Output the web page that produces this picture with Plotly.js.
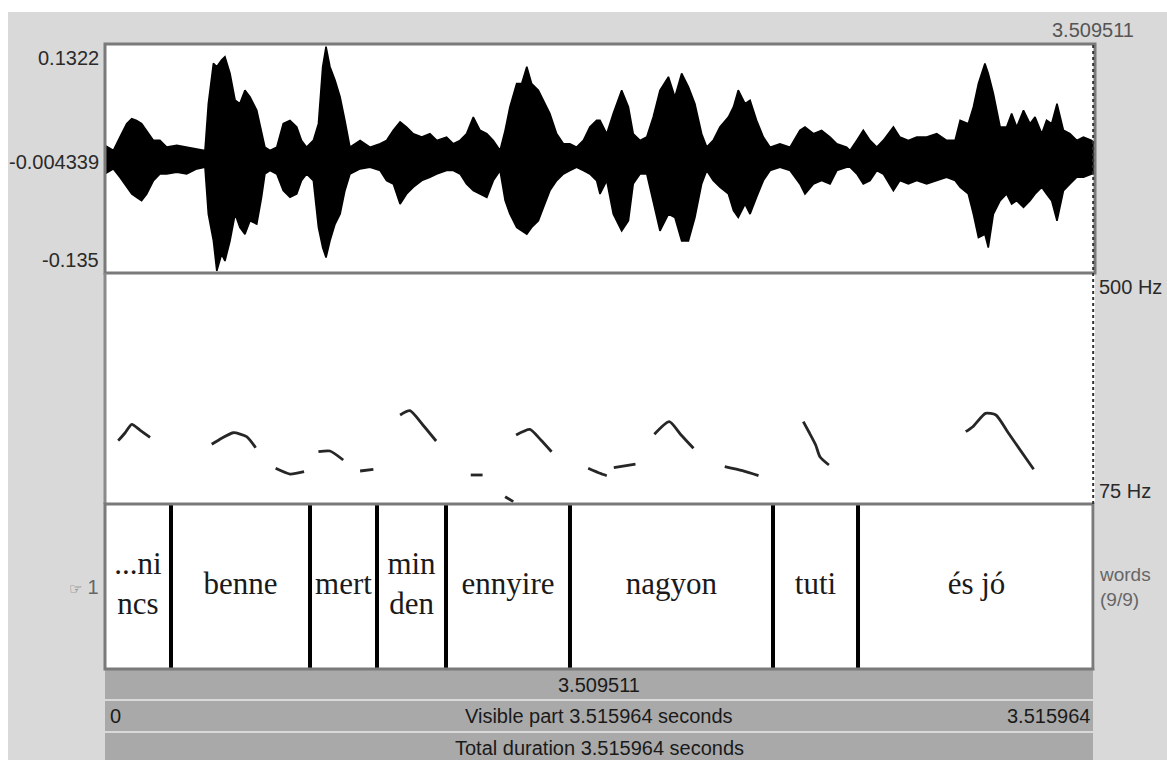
<!DOCTYPE html>
<html>
<head>
<meta charset="utf-8">
<script src="https://cdn.plot.ly/plotly-3.0.1.min.js"></script>
<style>
html,body{margin:0;padding:0;background:#ffffff;}
#chart{width:1167px;height:760px;}
</style>
</head>
<body>
<div id="chart"></div>
<script>
// ---------------- DATA ----------------
const totalDuration = 3.515964;
const cursorTime = 3.509511;
const ampTicks = [0.1322, -0.004339, -0.135];
const pitchRange = [75, 500];
const tierName = "words";
const tierCount = "(9/9)";

// waveform envelope (time s, upper / lower amplitude)
const waveTime = [
0.000,0.030,0.053,0.077,0.095,0.112,0.130,0.148,0.172,0.195,0.219,0.255,0.290,0.326,0.355,0.367,0.385,0.397,0.414,0.426,
0.444,0.462,0.479,0.497,0.515,0.539,0.556,0.568,0.586,0.610,0.633,0.657,0.681,0.698,0.716,0.740,0.758,0.773,0.785,0.799,
0.817,0.835,0.852,0.870,0.906,0.941,0.977,1.000,1.024,1.048,1.071,1.095,1.125,1.154,1.178,1.213,1.237,1.261,1.284,1.308,
1.332,1.356,1.379,1.403,1.421,1.438,1.462,1.480,1.498,1.515,1.539,1.557,1.580,1.604,1.628,1.651,1.675,1.699,1.722,1.746,
1.758,1.782,1.805,1.835,1.859,1.876,1.900,1.924,1.947,1.971,2.001,2.024,2.048,2.072,2.095,2.119,2.137,2.160,2.184,2.214,
2.232,2.249,2.273,2.291,2.314,2.338,2.362,2.397,2.433,2.468,2.486,2.516,2.545,2.575,2.599,2.634,2.646,2.670,2.693,2.717,
2.741,2.764,2.800,2.823,2.853,2.883,2.918,2.954,2.989,3.019,3.037,3.066,3.084,3.102,3.125,3.137,3.155,3.179,3.202,3.220,
3.238,3.262,3.285,3.303,3.327,3.344,3.362,3.381,3.404,3.427,3.451,3.475,3.504,3.516];
const waveUpper = [
0.0145,0.0086,0.0243,0.0400,0.0459,0.0439,0.0400,0.0322,0.0204,0.0204,0.0125,0.0145,0.0125,0.0106,0.0086,0.0635,0.1106,0.1067,0.1146,0.1185,
0.0989,0.0675,0.0635,0.0792,0.0714,0.0557,0.0282,0.0125,0.0086,0.0125,0.0400,0.0439,0.0361,0.0204,0.0125,0.0204,0.0400,0.1067,0.1302,0.1067,
0.0910,0.0714,0.0439,0.0125,0.0204,0.0125,0.0164,0.0204,0.0322,0.0420,0.0361,0.0282,0.0243,0.0282,0.0204,0.0243,0.0164,0.0204,0.0282,0.0478,
0.0322,0.0282,0.0204,0.0086,0.0322,0.0596,0.0871,0.0871,0.1067,0.0871,0.0792,0.0675,0.0518,0.0282,0.0164,0.0164,0.0125,0.0204,0.0361,0.0439,
0.0439,0.0282,0.0518,0.0792,0.0596,0.0282,0.0204,0.0243,0.0478,0.0792,0.0949,0.0714,0.0989,0.0832,0.0635,0.0282,0.0125,0.0204,0.0361,0.0478,
0.0596,0.0792,0.0635,0.0675,0.0439,0.0243,0.0125,0.0164,0.0125,0.0322,0.0361,0.0282,0.0322,0.0243,0.0164,0.0125,0.0086,0.0204,0.0322,0.0204,
0.0125,0.0204,0.0361,0.0243,0.0204,0.0243,0.0243,0.0282,0.0204,0.0204,0.0439,0.0400,0.0596,0.0871,0.1106,0.0989,0.0753,0.0361,0.0361,0.0518,
0.0361,0.0557,0.0400,0.0478,0.0282,0.0439,0.0400,0.0635,0.0322,0.0282,0.0204,0.0243,0.0204,0.0164];
const waveLower = [
-0.0189,-0.0130,-0.0228,-0.0345,-0.0424,-0.0463,-0.0502,-0.0424,-0.0267,-0.0189,-0.0189,-0.0169,-0.0189,-0.0130,-0.0110,-0.0659,-0.0973,-0.1326,-0.1130,-0.1209,
-0.0973,-0.0659,-0.0816,-0.0895,-0.0738,-0.0777,-0.0463,-0.0189,-0.0149,-0.0189,-0.0385,-0.0463,-0.0424,-0.0267,-0.0189,-0.0267,-0.0816,-0.1052,-0.1169,-0.0973,
-0.0777,-0.0659,-0.0385,-0.0189,-0.0130,-0.0110,-0.0149,-0.0267,-0.0306,-0.0542,-0.0424,-0.0345,-0.0267,-0.0228,-0.0189,-0.0149,-0.0149,-0.0189,-0.0306,-0.0385,
-0.0424,-0.0463,-0.0267,-0.0149,-0.0502,-0.0659,-0.0816,-0.0856,-0.0895,-0.0816,-0.0738,-0.0581,-0.0385,-0.0267,-0.0189,-0.0149,-0.0110,-0.0149,-0.0189,-0.0267,
-0.0424,-0.0267,-0.0659,-0.0856,-0.0738,-0.0306,-0.0189,-0.0189,-0.0502,-0.0856,-0.0659,-0.0699,-0.0973,-0.0973,-0.0699,-0.0306,-0.0149,-0.0267,-0.0345,-0.0424,
-0.0620,-0.0699,-0.0542,-0.0659,-0.0463,-0.0267,-0.0149,-0.0110,-0.0149,-0.0306,-0.0424,-0.0306,-0.0267,-0.0306,-0.0149,-0.0110,-0.0110,-0.0189,-0.0306,-0.0267,
-0.0149,-0.0189,-0.0385,-0.0267,-0.0306,-0.0267,-0.0306,-0.0267,-0.0228,-0.0267,-0.0345,-0.0424,-0.0659,-0.0934,-0.0895,-0.1052,-0.0659,-0.0502,-0.0424,-0.0542,
-0.0502,-0.0581,-0.0502,-0.0424,-0.0345,-0.0424,-0.0502,-0.0738,-0.0385,-0.0306,-0.0228,-0.0228,-0.0189,-0.0189];

// pitch contour (s, Hz); null separates voiced stretches
const pitchTime = [
0.047,0.071,0.095,0.124,0.160,null,
0.379,0.416,0.456,0.503,0.535,null,
0.606,0.657,0.707,null,
0.758,0.799,0.846,null,
0.906,0.953,null,
1.048,1.083,1.129,1.176,null,
1.299,1.341,null,
1.421,1.450,null,
1.460,1.509,1.548,1.586,null,
1.716,1.758,1.782,null,
1.807,1.884,null,
1.951,2.004,2.046,2.090,null,
2.201,2.264,2.321,null,
2.480,2.500,2.524,2.539,2.571,null,
3.057,3.082,3.127,3.164,3.209,3.298];
const pitchHz = [
192.0,206.2,222.3,211.7,198.2,null,
185.3,197.0,206.7,199.4,179.0,null,
141.0,130.4,134.7,null,
171.6,172.9,156.3,null,
136.0,139.1,null,
239.5,247.4,221.0,191.4,null,
128.6,128.6,null,
88.5,79.3,null,
202.5,213.0,193.3,171.6,null,
141.0,131.7,127.3,null,
142.1,148.9,null,
203.8,227.1,202.5,177.9,null,
143.9,136.5,127.3,null,
227.1,208.0,184.0,162.4,147.1,null,
208.6,217.8,242.6,239.5,205.6,139.1];

// word tier
const boundaries = [0.2344, 0.7281, 0.9660, 1.2111, 1.6514, 2.3724, 2.6743];
const words = ["...ni<br>ncs", "benne", "mert", "min<br>den", "ennyire", "nagyon", "tuti", "és jó"];

// ---------------- LAYOUT HELPERS ----------------
const W = 1167, H = 760;
const PX = x => x / W;
const PY = y => 1 - y / H;
const sans = "Liberation Sans, Arial, sans-serif";

// tier traces built from data
const edges = [0].concat(boundaries, [totalDuration]);
const mids = words.map((w, i) => (edges[i] + edges[i + 1]) / 2);
const bx = [], by = [];
boundaries.forEach(b => { bx.push(b, b, null); by.push(0, 1, null); });

const traces = [
  {x: waveTime, y: waveUpper, xaxis: 'x', yaxis: 'y', mode: 'lines',
   line: {color: '#000', width: 1.6}, hoverinfo: 'skip', showlegend: false},
  {x: waveTime, y: waveLower, xaxis: 'x', yaxis: 'y', mode: 'lines', fill: 'tonexty',
   fillcolor: '#000', line: {color: '#000', width: 1.6}, hoverinfo: 'skip', showlegend: false},
  {x: pitchTime, y: pitchHz, xaxis: 'x', yaxis: 'y2', mode: 'lines', connectgaps: false,
   line: {color: '#262626', width: 2.8, shape: 'spline', smoothing: 0.6}, hoverinfo: 'skip', showlegend: false},
  {x: bx, y: by, xaxis: 'x', yaxis: 'y3', mode: 'lines',
   line: {color: '#000', width: 4}, hoverinfo: 'skip', showlegend: false},
  {x: mids, y: words.map(() => 0.5), xaxis: 'x', yaxis: 'y3', mode: 'text', text: words,
   textposition: 'middle center', cliponaxis: false,
   textfont: {family: 'Liberation Serif, Times New Roman, serif', size: 31, color: '#1a1a1a'},
   hoverinfo: 'skip', showlegend: false}
];

const shapes = [
  {type: 'rect', xref: 'paper', yref: 'paper', x0: PX(8), x1: 1, y0: 0, y1: PY(12),
   fillcolor: '#d9d9d9', line: {width: 0}, layer: 'below'},
  {type: 'rect', xref: 'paper', yref: 'paper', x0: PX(105), x1: PX(1095), y0: PY(668), y1: PY(44),
   fillcolor: '#ffffff', line: {width: 0}, layer: 'below'},
  {type: 'rect', xref: 'paper', yref: 'paper', x0: PX(105), x1: PX(1093), y0: PY(699), y1: PY(670),
   fillcolor: '#a9a9a9', line: {width: 0}, layer: 'below'},
  {type: 'rect', xref: 'paper', yref: 'paper', x0: PX(105), x1: PX(1093), y0: PY(731), y1: PY(701),
   fillcolor: '#a9a9a9', line: {width: 0}, layer: 'below'},
  {type: 'rect', xref: 'paper', yref: 'paper', x0: PX(105), x1: PX(1093), y0: 0, y1: PY(733),
   fillcolor: '#a9a9a9', line: {width: 0}, layer: 'below'},
  {type: 'rect', xref: 'paper', yref: 'paper', x0: PX(105), x1: PX(1095), y0: PY(273), y1: PY(44),
   line: {color: '#7a7a7a', width: 3}},
  {type: 'line', xref: 'paper', yref: 'paper', x0: PX(105), x1: PX(105), y0: PY(504), y1: PY(273),
   line: {color: '#8a8a8a', width: 3}},
  {type: 'rect', xref: 'paper', yref: 'paper', x0: PX(105), x1: PX(1093), y0: PY(669), y1: PY(504),
   line: {color: '#7a7a7a', width: 3}},
  {type: 'line', xref: 'x', yref: 'paper', x0: cursorTime, x1: cursorTime, y0: PY(504), y1: PY(44),
   line: {color: '#333', width: 2, dash: 'dot'}}
];

const fnt = (s, c) => ({family: sans, size: s, color: c});
const FS = 20;
const annotations = [
  {xref: 'paper', yref: 'y', x: PX(101), y: ampTicks[0], xanchor: 'right', yanchor: 'top',
   text: String(ampTicks[0]), showarrow: false, font: fnt(FS, '#2a2a2a')},
  {xref: 'paper', yref: 'y', x: PX(101), y: ampTicks[1], xanchor: 'right', yanchor: 'middle',
   text: String(ampTicks[1]), showarrow: false, font: fnt(FS, '#2a2a2a')},
  {xref: 'paper', yref: 'y', x: PX(101), y: ampTicks[2], xanchor: 'right', yanchor: 'bottom',
   text: String(ampTicks[2]), showarrow: false, font: fnt(FS, '#2a2a2a')},
  {xref: 'x', yref: 'paper', x: cursorTime, y: PY(30), xanchor: 'center', yanchor: 'middle',
   text: cursorTime.toFixed(6), showarrow: false, font: fnt(FS, '#555')},
  {xref: 'paper', yref: 'y2', x: PX(1097), y: pitchRange[1], xanchor: 'left', yanchor: 'top',
   text: pitchRange[1] + ' Hz', showarrow: false, font: fnt(FS, '#2a2a2a')},
  {xref: 'paper', yref: 'y2', x: PX(1097), y: pitchRange[0], xanchor: 'left', yanchor: 'bottom',
   text: pitchRange[0] + ' Hz', showarrow: false, font: fnt(FS, '#2a2a2a')},
  {xref: 'paper', yref: 'y3', x: PX(1097), y: 0.5, xanchor: 'left', yanchor: 'middle', align: 'left',
   text: tierName + '<br>' + tierCount, showarrow: false, font: fnt(FS - 1, '#666')},
  {xref: 'paper', yref: 'y3', x: PX(101), y: 0.5, xanchor: 'right', yanchor: 'middle',
   text: '<span style="font-size:15px">☞</span> 1', showarrow: false, font: fnt(FS, '#666')},
  {xref: 'paper', yref: 'paper', x: PX(599), y: PY(685), xanchor: 'center', yanchor: 'middle',
   text: cursorTime.toFixed(6), showarrow: false, font: fnt(FS, '#1a1a1a')},
  {xref: 'paper', yref: 'paper', x: PX(108), y: PY(716), xanchor: 'left', yanchor: 'middle',
   text: '0', showarrow: false, font: fnt(FS, '#1a1a1a')},
  {xref: 'paper', yref: 'paper', x: PX(599), y: PY(716), xanchor: 'center', yanchor: 'middle',
   text: 'Visible part ' + totalDuration.toFixed(6) + ' seconds', showarrow: false, font: fnt(FS, '#1a1a1a')},
  {xref: 'paper', yref: 'paper', x: PX(1092), y: PY(716), xanchor: 'right', yanchor: 'middle',
   text: totalDuration.toFixed(6), showarrow: false, font: fnt(FS, '#1a1a1a')},
  {xref: 'paper', yref: 'paper', x: PX(599), y: PY(748), xanchor: 'center', yanchor: 'middle',
   text: 'Total duration ' + totalDuration.toFixed(6) + ' seconds', showarrow: false, font: fnt(FS, '#1a1a1a')}
];

const hidden = {visible: false, fixedrange: true, showgrid: false, zeroline: false};
const layout = {
  width: W, height: H,
  margin: {l: 0, r: 0, t: 0, b: 0},
  paper_bgcolor: '#ffffff', plot_bgcolor: 'rgba(0,0,0,0)',
  showlegend: false,
  xaxis: Object.assign({domain: [PX(105), PX(1095)], range: [0, totalDuration], anchor: 'y3'}, hidden),
  yaxis: Object.assign({domain: [PY(273), PY(45)], range: [ampTicks[2], ampTicks[0]], anchor: 'x'}, hidden),
  yaxis2: Object.assign({domain: [PY(504), PY(274)], range: pitchRange, anchor: 'x'}, hidden),
  yaxis3: Object.assign({domain: [PY(668), PY(505)], range: [0, 1], anchor: 'x'}, hidden),
  shapes: shapes,
  annotations: annotations
};

Plotly.newPlot('chart', traces, layout, {staticPlot: true, displayModeBar: false});
</script>
</body>
</html>
